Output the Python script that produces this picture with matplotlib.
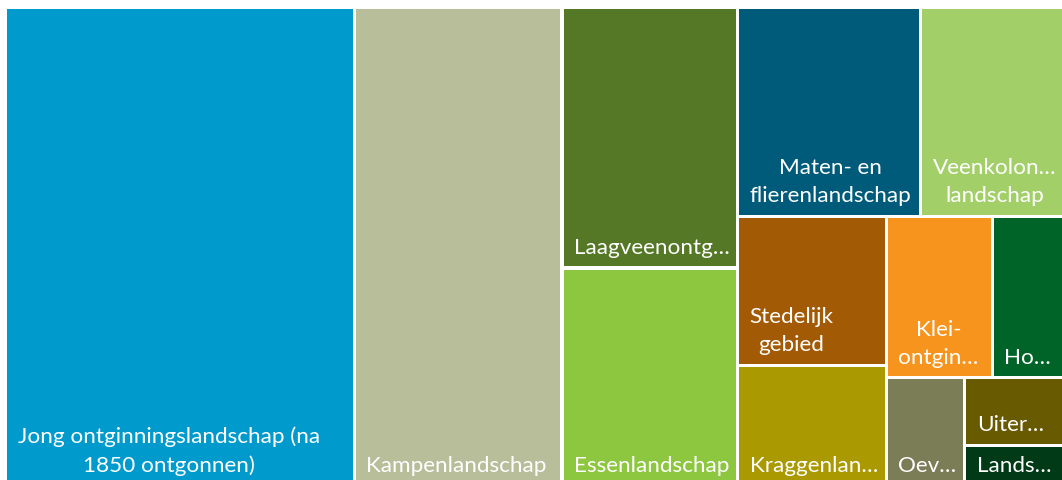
import matplotlib
matplotlib.use("Agg")
import matplotlib.pyplot as plt
from matplotlib.patches import Rectangle

# ---- data (share of area, %) ----
labels = [
    "Jong ontginningslandschap (na\n1850 ontgonnen)",
    "Kampenlandschap",
    "Laagveenontg…",
    "Essenlandschap",
    "Maten- en\nflierenlandschap",
    "Veenkolon…\nlandschap",
    "Stedelijk\ngebied",
    "Kraggenlan…",
    "Klei-\nontgin…",
    "Ho…",
    "Oev…",
    "Uiter…",
    "Lands…",
]
values = [32.96, 19.64, 9.03, 7.55, 7.56, 5.90, 4.38, 3.54, 3.38, 2.28, 1.67, 1.32, 0.79]
colors = ["#009ACD", "#B8BD9A", "#557826", "#8DC63F", "#005B7B", "#A3CF69",
          "#A25A05", "#AA9900", "#F7941E", "#006428", "#7A7D55", "#675A00", "#003A17"]

# nesting of the treemap: 'h' = side by side, 'v' = stacked
structure = ('h', [0, 1, ('v', [2, 3]),
                   ('v', [('h', [4, 5]),
                          ('h', [('v', [6, 7]),
                                 ('v', [('h', [8, 9]),
                                        ('h', [10, ('v', [11, 12])])])])])])


def node_sum(n):
    if isinstance(n, int):
        return values[n]
    return sum(node_sum(c) for c in n[1])


def layout(n, x, y, w, h, out):
    if isinstance(n, int):
        out[n] = (x, y, w, h)
        return
    kind, kids = n
    tot = node_sum(n)
    pos = 0.0
    for c in kids:
        f = node_sum(c) / tot
        if kind == 'h':
            layout(c, x + pos * w, y, w * f, h, out)
        else:
            layout(c, x, y + pos * h, w, h * f, out)
        pos += f


W_PX, H_PX = 1062, 481
fig = plt.figure(figsize=(W_PX / 100, H_PX / 100), dpi=100)
ax = fig.add_axes([0, 0, 1, 1])
ax.set_xlim(0, W_PX)
ax.set_ylim(H_PX, 0)
ax.axis("off")

X0, Y0, W, H = 5.4, 8.4, 1058.2, 478.3
GAP = 3.3
rects = {}
layout(structure, X0, Y0, W, H, rects)

for i in range(len(values)):
    x, y, w, h = rects[i]
    ax.add_patch(Rectangle((x + GAP / 2, y + GAP / 2), w - GAP, h - GAP,
                           facecolor=colors[i], edgecolor="none"))
    ax.text(x + GAP / 2 + 10.5, y + h - GAP / 2 - 13.4, labels[i],
            ha="left", va="baseline", multialignment="center",
            color="white", fontsize=16.2, family="Lato", linespacing=1.5)

fig.savefig("out.png", dpi=100)
